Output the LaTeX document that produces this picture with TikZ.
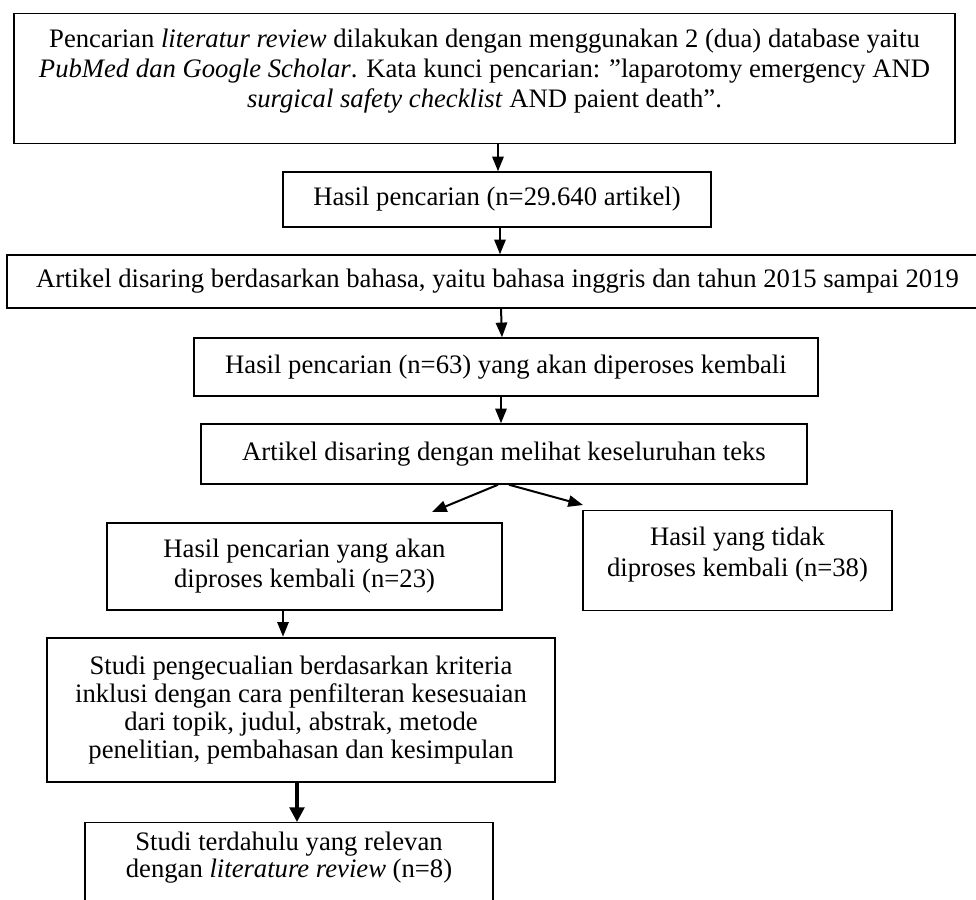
\documentclass[tikz,border=0pt]{standalone}
\usepackage{fontspec}
\setmainfont{Liberation Serif}
\usetikzlibrary{arrows.meta}
\newdimen\px \px=0.75pt
\begin{document}
\begin{tikzpicture}[x=0.75pt,y=-0.75pt,
  frame/.style={draw, line width=1.1pt, rectangle, inner sep=0pt},
  box/.style={frame, align=flush center, font=\fontsize{20}{21}\selectfont},
  arr/.style={line width=1.5pt, -{Triangle[length=11pt,width=8.5pt]}},
  thickarr/.style={line width=2.5pt, -{Triangle[length=11pt,width=11pt]}}
  ]
\useasboundingbox (0,0) rectangle (976,900);

\node[box, anchor=north, font=\fontsize{20}{22.5}\selectfont, text width=941\px] (b1) at (484.5,13)
  {\rule{0pt}{25pt}Pencarian \textit{literatur review} dilakukan dengan menggunakan 2 (dua) database yaitu\\
   \textit{PubMed dan Google Scholar}. Kata kunci pencarian: ”laparotomy emergency AND\\
   \textit{surgical safety checklist} AND paient death”.\rule[-27.5pt]{0pt}{27.5pt}};

\node[box, text width=428\px, minimum height=55\px] (b2) at (497,199.5)
  {Hasil pencarian (n=29.640 artikel)};

\node[box, text width=981\px, minimum height=53\px] (b3) at (497.5,281.5)
  {Artikel disaring berdasarkan bahasa, yaitu bahasa inggris dan tahun 2015 sampai 2019};

\node[box, text width=624\px, minimum height=58\px] (b4) at (506,367)
  {Hasil pencarian (n=63) yang akan diperoses kembali};

\node[box, text width=606\px, minimum height=60\px] (b5) at (504,454)
  {Artikel disaring dengan melihat keseluruhan teks};

\node[box, font=\fontsize{20}{22.5}\selectfont, text width=395\px, minimum height=87\px] (b6) at (304.5,566.5)
  {Hasil pencarian yang akan\\diproses kembali (n=23)};

\node[box, anchor=north, font=\fontsize{20}{23.25}\selectfont, text width=309\px] (b7) at (737.5,510)
  {\rule{0pt}{26.25pt}Hasil yang tidak\\diproses kembali (n=38)\rule[-25.5pt]{0pt}{25.5pt}};

\node[box, line width=2pt, text width=508\px, minimum height=144\px] (b8) at (301,710)
  {Studi pengecualian berdasarkan kriteria\\
   inklusi dengan cara penfilteran kesesuaian\\
   dari topik, judul, abstrak, metode\\
   penelitian, pembahasan dan kesimpulan};

\node[box, anchor=north, font=\fontsize{20}{20.25}\selectfont, text width=408\px] (b9) at (289,822)
  {\rule{0pt}{21pt}Studi terdahulu yang relevan\\dengan \textit{literature review} (n=8)\rule[-25pt]{0pt}{25pt}};

\coordinate (tl) at (432,512);
\coordinate (tr) at (583,505);

\draw[arr] (b1.south -| 498,0) -- (b2.north -| 498,0);
\draw[arr] (b2.south -| 500,0) -- (b3.north -| 500,0);
\draw[arr] (b3.south -| 501,0) -- (b4.north -| 502,0);
\draw[arr] (b4.south -| 501,0) -- (b5.north -| 501,0);
\draw[arr] (b5.south -| 498,0) -- (tl);
\draw[arr] (b5.south -| 509,0) -- (tr);
\draw[arr] (b6.south -| 283,0) -- (b8.north -| 283,0);
\draw[thickarr] (b8.south -| 297,0) -- (b9.north -| 297,0);
\end{tikzpicture}
\end{document}
